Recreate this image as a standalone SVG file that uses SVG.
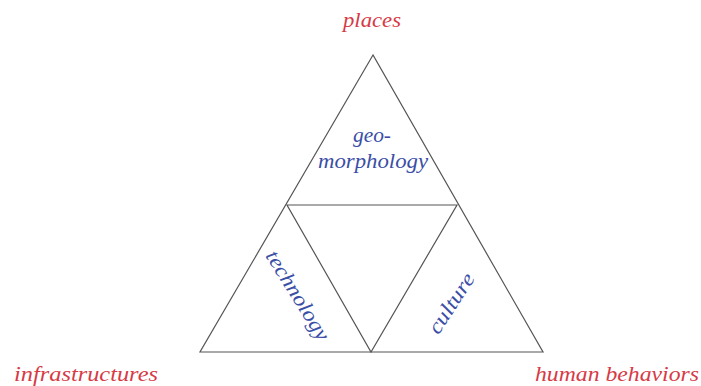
<svg xmlns="http://www.w3.org/2000/svg" width="701" height="386" viewBox="0 0 701 386">
<style>
.t{font-family:"Liberation Serif","DejaVu Serif",serif;font-style:italic;font-size:21px;text-anchor:middle}
.r{fill:#d63a46}
.b{fill:#3a4ea6}
.e{fill:none;stroke:#555;stroke-width:1.2}
</style>
<rect width="701" height="386" fill="#fff"/>
<g id="connectors">
<polygon class="e" points="373,55 200,352 543,352"/>
<polygon class="e" points="287,205 457,205 371,352"/>
</g>
<g id="places"><text class="t r" x="372" y="27" textLength="58" lengthAdjust="spacingAndGlyphs">places</text></g>
<g id="infrastructures"><text class="t r" x="86" y="381" textLength="144" lengthAdjust="spacingAndGlyphs">infrastructures</text></g>
<g id="human-behaviors"><text class="t r" x="617" y="381" textLength="164" lengthAdjust="spacingAndGlyphs">human behaviors</text></g>
<g id="geomorphology"><text class="t b" x="372" y="142" textLength="38" lengthAdjust="spacingAndGlyphs">geo-</text><text class="t b" x="373" y="168" textLength="110" lengthAdjust="spacingAndGlyphs">morphology</text></g>
<g id="technology"><text class="t b" transform="translate(292,299) rotate(58)" x="0" y="0" textLength="102" lengthAdjust="spacingAndGlyphs">technology</text></g>
<g id="culture"><text class="t b" transform="translate(457,307) rotate(-57)" x="0" y="0" textLength="68" lengthAdjust="spacingAndGlyphs">culture</text></g>
</svg>
